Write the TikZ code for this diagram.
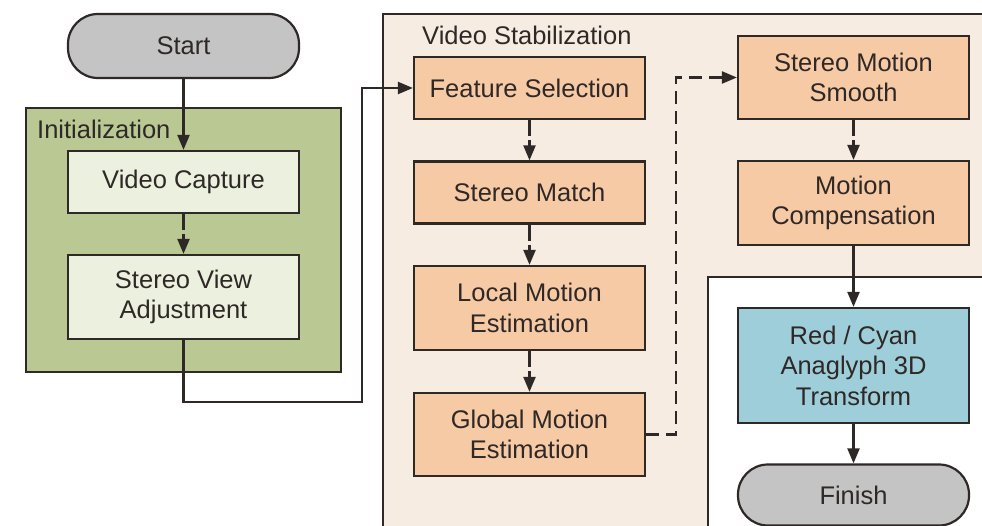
\documentclass[tikz,border=0pt]{standalone}
\usepackage{fontspec}
\setmainfont{Liberation Sans}
\usetikzlibrary{arrows.meta}
\definecolor{ink}{HTML}{2E2826}
\definecolor{greyfill}{HTML}{C4C4C4}
\definecolor{initgreen}{HTML}{BAC994}
\definecolor{lightgreen}{HTML}{ECF0DF}
\definecolor{orangefill}{HTML}{F7CAA6}
\definecolor{regionbg}{HTML}{F6ECE1}
\definecolor{cyanfill}{HTML}{9ECED9}
\tikzset{
  every node/.style={font=\fontsize{25.5}{30.5}\selectfont, text=ink, align=center, inner sep=0pt},
  box/.style={draw=ink, line width=2.2pt, minimum width=231pt},
  term/.style={box, fill=greyfill, rounded corners=30pt},
  initbox/.style={box, fill=lightgreen},
  stepbox/.style={box, fill=orangefill},
  cyanbox/.style={box, fill=cyanfill},
  conn/.style={draw=ink, line width=2.2pt, -{Triangle[length=15pt,width=12pt]}},
  shortdash/.style={dash pattern=on 16pt off 4pt},
  longdash/.style={dash pattern=on 13pt off 7pt},
}
\begin{document}
\begin{tikzpicture}[x=1pt,y=-1pt]
\useasboundingbox (0,0) rectangle (982,526);
\begin{scope}
\clip (0,0) rectangle (982,526);
% Video stabilization region (L shape)
\filldraw[fill=regionbg, draw=ink, line width=2.2pt]
  (383,540) -- (383,14) -- (1000,14) -- (1000,277) -- (708,277) -- (708,540) -- cycle;
\end{scope}
\node[anchor=west] (vslabel) at (422,35) {Video Stabilization};
% Initialization group
\node[box, fill=initgreen, minimum width=315pt, minimum height=264pt] (initgroup) at (183.5,240) {};
\node[anchor=west] (initlabel) at (37,129) {Initialization};
% Left column
\node[term, minimum height=64pt] (start) at (183.5,46) {Start};
\node[initbox, minimum height=62pt] (vc) at (183.5,182) {Video Capture};
\node[initbox, minimum height=84pt] (sva) at (183.5,297) {Stereo View\\Adjustment};
% Middle column
\node[stepbox, minimum height=62pt] (fs) at (529.5,88) {Feature Selection};
\node[stepbox, minimum height=62pt] (sm) at (529.5,192.5) {Stereo Match};
\node[stepbox, minimum height=84pt] (lm) at (529.5,308) {Local Motion\\Estimation};
\node[stepbox, minimum height=83pt] (gm) at (529.5,434.5) {Global Motion\\Estimation};
% Right column
\node[stepbox, minimum height=83pt] (sms) at (853.5,77.5) {Stereo Motion\\Smooth};
\node[stepbox, minimum height=84pt] (mc) at (853.5,203) {Motion\\Compensation};
\node[cyanbox, minimum height=115pt] (rc) at (853.5,365.5) {Red / Cyan\\Anaglyph 3D\\Transform};
\node[term, minimum height=61pt] (finish) at (853.5,495) {Finish};
% Connector waypoints
\coordinate (c1) at (362,402);
\coordinate (c2) at (676,77.5);
% Connectors
\draw[conn] (start) -- (vc);
\draw[conn, shortdash] (vc) -- (sva);
\draw[conn] (sva.south) |- (c1) |- (fs.west);
\draw[conn, shortdash] (fs) -- (sm);
\draw[conn, shortdash] (sm) -- (lm);
\draw[conn, shortdash] (lm) -- (gm);
\draw[conn, longdash] (gm.east) -| (c2) -- (sms.west);
\draw[conn, shortdash] (sms) -- (mc);
\draw[conn] (mc) -- (rc);
\draw[conn] (rc) -- (finish);
\end{tikzpicture}
\end{document}
